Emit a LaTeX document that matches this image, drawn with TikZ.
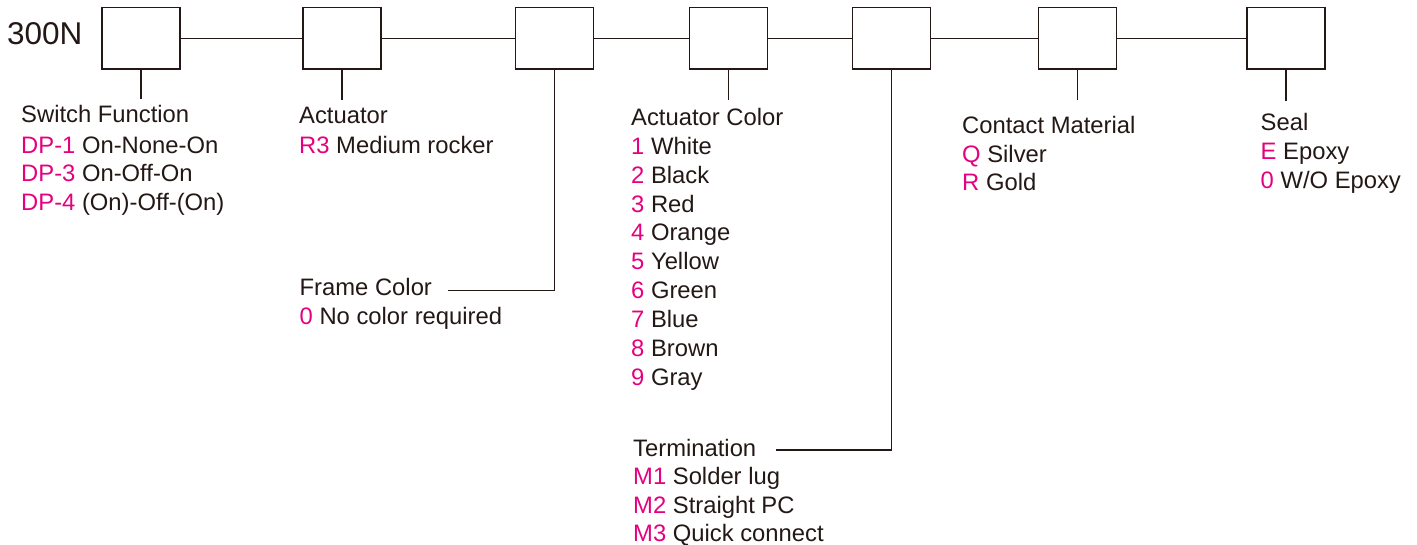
\documentclass[tikz,border=0pt]{standalone}
\usepackage{fontspec}
\setmainfont{Liberation Sans}
\definecolor{pk}{HTML}{E4007F}
\definecolor{dk}{HTML}{231815}
\begin{document}
\begin{tikzpicture}[x=1pt,y=-1pt,
  box/.style={draw=dk,line width=1.5pt,minimum width=78pt,minimum height=61.5pt,inner sep=0pt},
  conn/.style={draw=dk,line width=1.5pt},
  txt/.style={anchor=base west,inner sep=0pt,text=dk,font=\fontsize{23.8}{28}\selectfont}]
\useasboundingbox (0,0) rectangle (1417,545);
\newcommand\itm[5]{\node[txt] (#1) at (#2,#3) {\textcolor{pk}{#4} #5};}
% title
\node[txt,font=\fontsize{31.5}{36}\selectfont] (title) at (7,45) {300N};
% boxes
\node[box] (b1) at (141,38.5) {};
\node[box] (b2) at (342,38.5) {};
\node[box] (b3) at (554.5,38.5) {};
\node[box] (b4) at (728.7,38.5) {};
\node[box] (b5) at (891.3,38.5) {};
\node[box] (b6) at (1077.7,38.5) {};
\node[box] (b7) at (1286,38.5) {};
\foreach \a/\b in {b1/b2,b2/b3,b3/b4,b4/b5,b5/b6,b6/b7}
  \draw[conn] (\a.east) -- (\b.west);
% drop ends
\coordinate (e1) at (141,99.5);
\coordinate (e2) at (342,100);
\coordinate (e3) at (554.5,290.7);
\coordinate (f3) at (448,290.7);
\coordinate (e4) at (728.7,100);
\coordinate (e5) at (891.3,450);
\coordinate (f5) at (775.7,450);
\coordinate (e6) at (1077.7,100);
\coordinate (e7) at (1286,101);
\draw[conn] (b1.south) -- (e1);
\draw[conn] (b2.south) -- (e2);
\draw[conn] (b3.south) -- (e3) -- (f3);
\draw[conn] (b4.south) -- (e4);
\draw[conn] (b5.south) -- (e5) -- (f5);
\draw[conn] (b6.south) -- (e6);
\draw[conn] (b7.south) -- (e7);
% Switch function
\node[txt] (sf) at (21,122.7) {Switch Function};
\itm{sf1}{21}{153.3}{DP-1}{On-None-On}
\itm{sf2}{21}{181.9}{DP-3}{On-Off-On}
\itm{sf3}{21}{210.5}{DP-4}{(On)-Off-(On)}
% Actuator
\node[txt] (ac) at (299,124) {Actuator};
\itm{ac1}{299}{154}{R3}{Medium rocker}
% Frame color
\node[txt] (fc) at (299.5,296) {Frame Color};
\itm{fc1}{299.5}{324.5}{0}{No color required}
% Actuator color
\node[txt] (acc) at (631,126) {Actuator Color};
\itm{acc1}{631}{154.3}{1}{White}
\itm{acc2}{631}{183.2}{2}{Black}
\itm{acc3}{631}{212.1}{3}{Red}
\itm{acc4}{631}{241.0}{4}{Orange}
\itm{acc5}{631}{269.9}{5}{Yellow}
\itm{acc6}{631}{298.8}{6}{Green}
\itm{acc7}{631}{327.7}{7}{Blue}
\itm{acc8}{631}{356.6}{8}{Brown}
\itm{acc9}{631}{385.5}{9}{Gray}
% Termination
\node[txt] (tm) at (633,456) {Termination};
\itm{tm1}{633}{484.5}{M1}{Solder lug}
\itm{tm2}{633}{513}{M2}{Straight PC}
\itm{tm3}{633}{541.5}{M3}{Quick connect}
% Contact material
\node[txt] (cm) at (962,133.3) {Contact Material};
\itm{cm1}{962}{162.3}{Q}{Silver}
\itm{cm2}{962}{190.8}{R}{Gold}
% Seal
\node[txt] (sl) at (1260.5,130.7) {Seal};
\itm{sl1}{1260.5}{159.5}{E}{Epoxy}
\itm{sl2}{1260.5}{188.3}{0}{W/O Epoxy}
\end{tikzpicture}
\end{document}
